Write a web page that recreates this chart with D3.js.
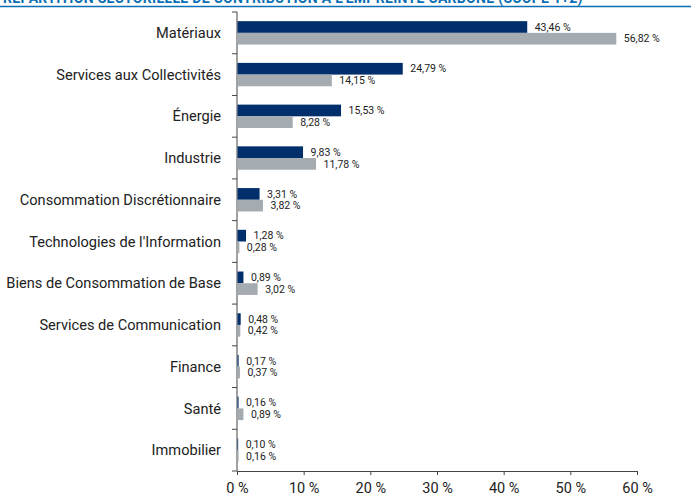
<!DOCTYPE html>
<html>
<head>
  <meta charset="utf-8" />
  <script src="https://cdnjs.cloudflare.com/ajax/libs/d3/7.8.5/d3.min.js"></script>
  <style>
    body { margin: 0; background: #fff; }
    text { font-family: "Roboto", "Noto Sans", sans-serif; }
  </style>
</head>
<body>
  <svg width="691" height="498"></svg>
<script>

  var sectors = ["Matériaux", "Services aux Collectivités", "Énergie", "Industrie",
    "Consommation Discrétionnaire", "Technologies de l'Information",
    "Biens de Consommation de Base", "Services de Communication",
    "Finance", "Santé", "Immobilier"];
  var fundValues  = [43.46, 24.79, 15.53, 9.83, 3.31, 1.28, 0.89, 0.48, 0.17, 0.16, 0.10];
  var indexValues = [56.82, 14.15, 8.28, 11.78, 3.82, 0.28, 3.02, 0.42, 0.37, 0.89, 0.16];
  var xTicks = [0, 10, 20, 30, 40, 50, 60];
  var title = "RÉPARTITION SECTORIELLE DE CONTRIBUTION À L'EMPREINTE CARBONE (SCOPE 1+2)";

  var fr = d3.formatLocale({decimal: ",", thousands: " ", grouping: [3], currency: ["", " €"]});
  var fmt = fr.format(".2f");

  var svg = d3.select("svg");

  // title, clipped at the top like the source
  svg.append("text")
    .attr("x", 3).attr("y", 3)
    .attr("fill", "#0a6fb5")
    .attr("font-weight", "bold")
    .attr("font-size", 14)
    .attr("letter-spacing", 0.3)
    .text(title);
  svg.append("line")
    .attr("x1", 0).attr("x2", 691).attr("y1", 6.5).attr("y2", 6.5)
    .attr("stroke", "#0a6fb5").attr("stroke-width", 1.5);

  var xScale = d3.scaleLinear().domain([0, 60]).range([237, 637]);
  var yScale = d3.scaleBand().domain(sectors).range([12, 471]);
  var barH = 11.7;

  // x axis
  var xAxis = d3.axisBottom(xScale).tickValues(xTicks)
    .tickSize(4).tickSizeOuter(0).tickPadding(8)
    .tickFormat(d => d + " %");
  var gx = svg.append("g").attr("transform", "translate(0,471)").call(xAxis);
  gx.selectAll("path, line").attr("stroke", "#444");
  gx.selectAll("text").attr("font-size", 14.5).attr("fill", "#222");

  // y axis: line + ticks on band edges
  var edges = sectors.map(d => yScale(d)).concat([471]);
  var gy = svg.append("g");
  gy.append("line").attr("x1", 237).attr("x2", 237).attr("y1", 12).attr("y2", 471)
    .attr("stroke", "#444");
  gy.selectAll(".tk").data(edges).enter().append("line")
    .attr("x1", 232).attr("x2", 237)
    .attr("y1", d => d).attr("y2", d => d)
    .attr("stroke", "#444");
  gy.selectAll(".cat").data(sectors).enter().append("text")
    .attr("x", 221)
    .attr("y", d => yScale(d) + yScale.bandwidth() / 2)
    .attr("dy", "0.35em")
    .attr("text-anchor", "end")
    .attr("font-size", 14.6)
    .attr("fill", "#222")
    .text(d => d);

  // bars
  var series = [
    {vals: fundValues, color: "#002f6c", off: -barH},
    {vals: indexValues, color: "#a5acb1", off: 0}
  ];
  series.forEach(function(s) {
    var g = svg.append("g");
    g.selectAll("rect").data(sectors).enter().append("rect")
      .attr("x", xScale(0) + 0.5)
      .attr("y", d => yScale(d) + yScale.bandwidth() / 2 + s.off)
      .attr("width", (d, i) => xScale(s.vals[i]) - xScale(0))
      .attr("height", barH)
      .attr("fill", s.color);
    g.selectAll("text").data(sectors).enter().append("text")
      .attr("x", (d, i) => xScale(s.vals[i]) + 8)
      .attr("y", d => yScale(d) + yScale.bandwidth() / 2 + s.off + barH / 2)
      .attr("dy", "0.35em")
      .attr("font-size", 10.5)
      .attr("fill", "#222")
      .text((d, i) => fmt(s.vals[i]) + " %");
  });

</script>
</body>
</html>
